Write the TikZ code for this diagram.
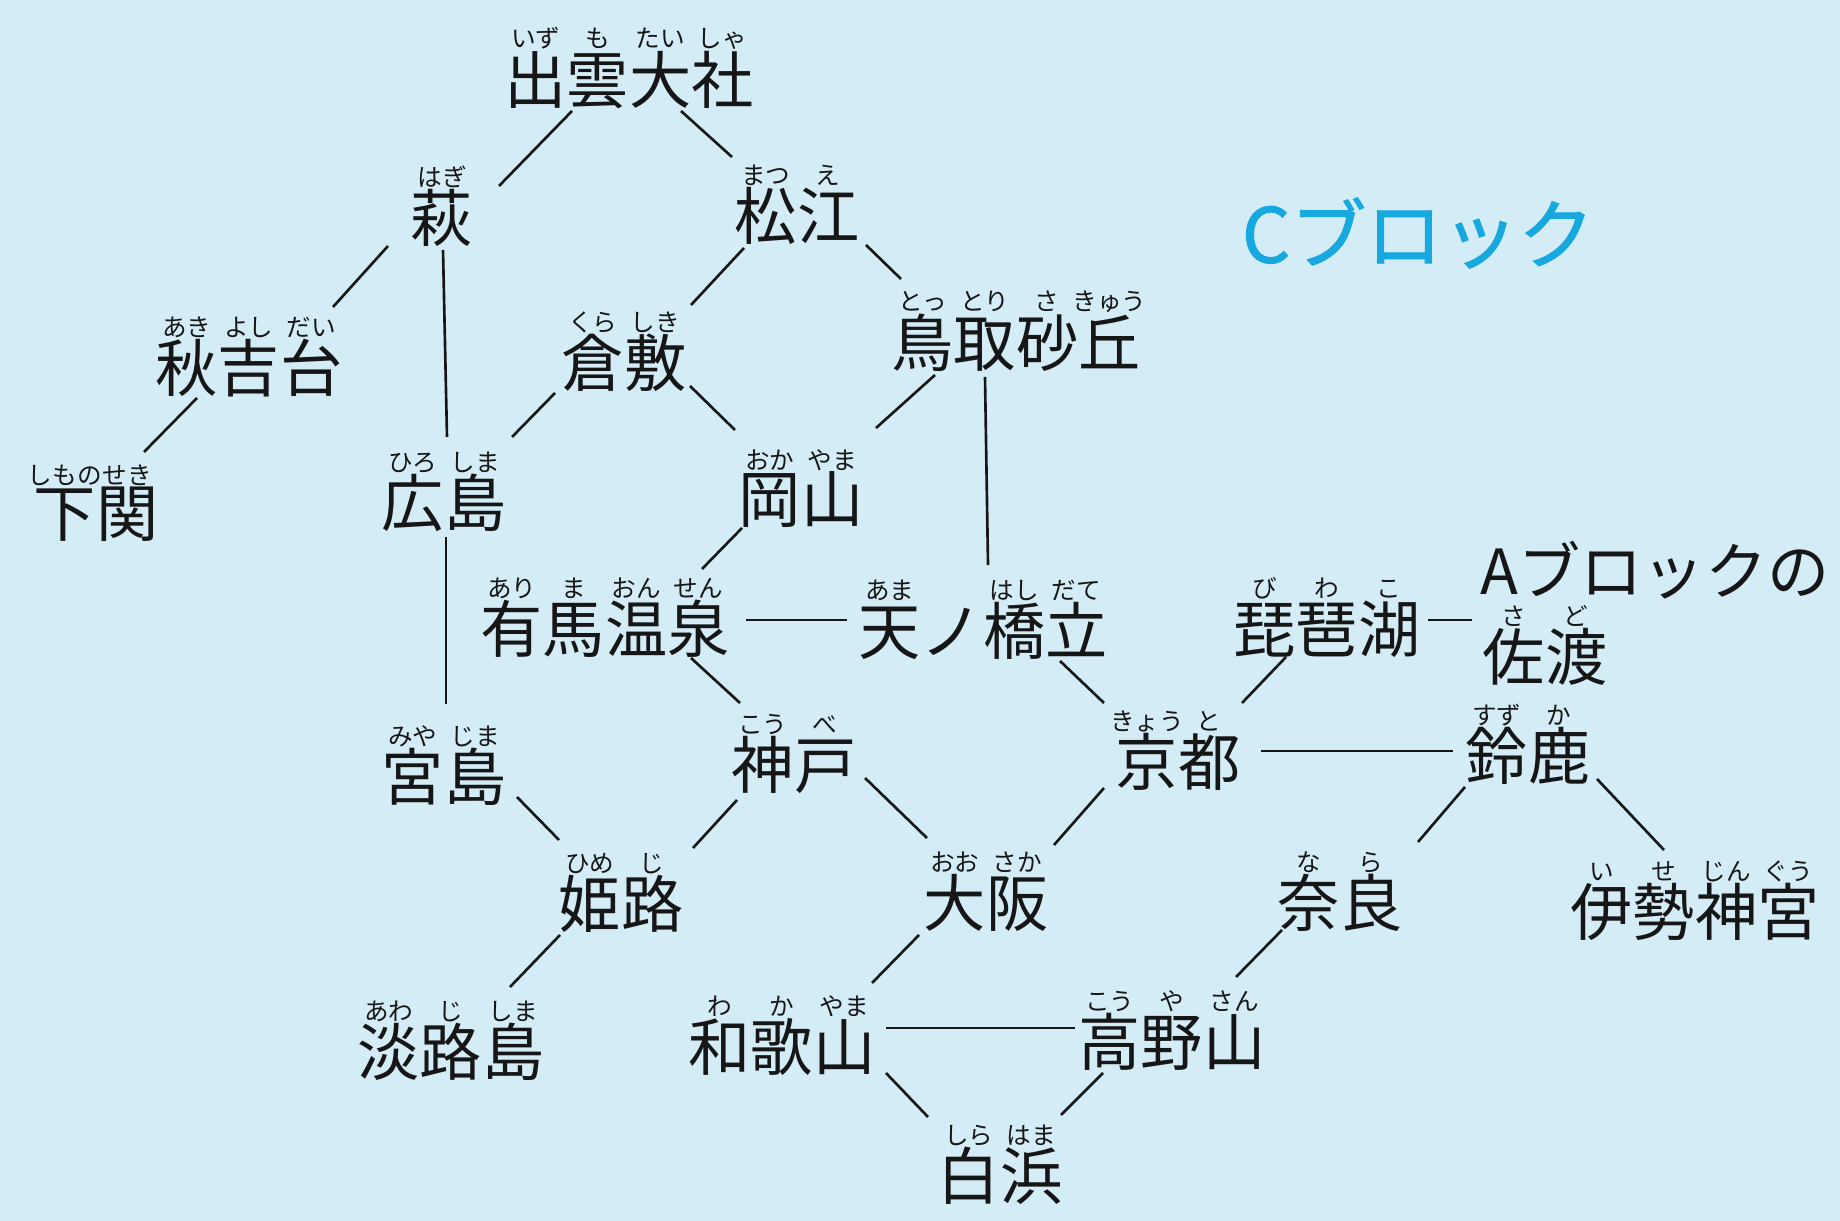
\documentclass[tikz,border=0pt]{standalone}
\usepackage{fontspec}
\setmainfont{Noto Sans CJK JP}
\newfontfamily\blockfont[FakeBold=1.2]{Noto Sans CJK JP}
\definecolor{sky}{RGB}{212,236,246}
\definecolor{ink}{RGB}{22,22,22}
\definecolor{blockcyan}{RGB}{22,168,222}
\newlength{\kw}
\setlength{\kw}{17.7pt}
\newcommand{\fu}[1]{\makebox[\kw]{#1}}
\newcommand{\placefont}{\fontsize{17.7pt}{20pt}\selectfont}
\newcommand{\rubyfont}{\fontsize{7pt}{8pt}\selectfont}

\begin{document}
\begin{tikzpicture}[x=0.1mm, y=-0.1mm]
\tikzstyle{p} = [font=\placefont, text=ink, inner sep=0pt, label distance=1.1mm]
\tikzstyle{r} = [font=\rubyfont, text=ink, inner sep=0pt]
\tikzstyle{e} = [draw=ink, line width=0.75pt]

\fill[sky] (0,0) rectangle (1840,1221);

\node[font=\blockfont\fontsize{21.6pt}{24pt}\selectfont, text=blockcyan, inner sep=0pt] (CBlock) at (1418,233) {Cブロック};

\node[p, label={[r]above:{\fu{いず}\fu{も}\fu{たい}\fu{しゃ}}}] (Izumo) at (629,80) {出雲大社};
\node[p, label={[r]above:{\fu{はぎ}}}] (Hagi) at (442,218) {萩};
\node[p, label={[r]above:{\fu{まつ}\fu{え}}}] (Matsue) at (797,216) {松江};
\node[p, label={[r]above:{\fu{あき}\fu{よし}\fu{だい}}}] (Akiyoshi) at (249,368) {秋吉台};
\node[p, label={[r]above:{\fu{くら}\fu{しき}}}] (Kurashiki) at (624,363) {倉敷};
\node[p, label={[r]above:{\fu{とっ}\fu{とり}\fu{さ}\fu{きゅう}}}] (Tottori) at (1016,343) {鳥取砂丘};
\node[p, label={[r]above:{\fu{しもの}\fu{せき}}}] (Shimo) at (96,514) {下関};
\node[p, label={[r]above:{\fu{ひろ}\fu{しま}}}] (Hiroshima) at (444,503) {広島};
\node[p, label={[r]above:{\fu{おか}\fu{やま}}}] (Okayama) at (801,500) {岡山};
\node[p, label={[r]above:{\fu{あり}\fu{ま}\fu{おん}\fu{せん}}}] (Arima) at (605,629) {有馬温泉};
\node[p, label={[r]above:{\fu{あま}\fu{}\fu{はし}\fu{だて}}}] (Amano) at (983,631) {天ノ橋立};
\node[p, label={[r]above:{\fu{び}\fu{わ}\fu{こ}}}] (Biwako) at (1327,629) {琵琶湖};
\node[p] (ABlock) at (1655,570) {Aブロックの};
\node[p, label={[r]above:{\fu{さ}\fu{ど}}}] (Sado) at (1545,657) {佐渡};
\node[p, label={[r]above:{\fu{みや}\fu{じま}}}] (Miyajima) at (444,777) {宮島};
\node[p, label={[r]above:{\fu{こう}\fu{べ}}}] (Kobe) at (794,765) {神戸};
\node[p, label={[r]above:{\fu{きょう}\fu{と}}}] (Kyoto) at (1178,762) {京都};
\node[p, label={[r]above:{\fu{すず}\fu{か}}}] (Suzuka) at (1528,756) {鈴鹿};
\node[p, label={[r]above:{\fu{ひめ}\fu{じ}}}] (Himeji) at (621,904) {姫路};
\node[p, label={[r]above:{\fu{おお}\fu{さか}}}] (Osaka) at (986,903) {大阪};
\node[p, label={[r]above:{\fu{な}\fu{ら}}}] (Nara) at (1340,903) {奈良};
\node[p, label={[r]above:{\fu{い}\fu{せ}\fu{じん}\fu{ぐう}}}] (Ise) at (1695,912) {伊勢神宮};
\node[p, label={[r]above:{\fu{あわ}\fu{じ}\fu{しま}}}] (Awaji) at (451,1052) {淡路島};
\node[p, label={[r]above:{\fu{わ}\fu{か}\fu{やま}}}] (Wakayama) at (782,1047) {和歌山};
\node[p, label={[r]above:{\fu{こう}\fu{や}\fu{さん}}}] (Koya) at (1172,1042) {高野山};
\node[p, label={[r]above:{\fu{しら}\fu{はま}}}] (Shirahama) at (1000,1176) {白浜};

\draw[e] ([shift={(-57,31)}]Izumo.center) to ([shift={(57,-32)}]Hagi.center);
\draw[e] ([shift={(52,31)}]Izumo.center) to ([shift={(-65,-59)}]Matsue.center);
\draw[e] ([shift={(-54,28)}]Hagi.center) to ([shift={(84,-61)}]Akiyoshi.center);
\draw[e] ([shift={(1,32)}]Hagi.center) to ([shift={(3,-66)}]Hiroshima.center);
\draw[e] ([shift={(-53,32)}]Matsue.center) to ([shift={(67,-58)}]Kurashiki.center);
\draw[e] ([shift={(69,29)}]Matsue.center) to ([shift={(-115,-64)}]Tottori.center);
\draw[e] ([shift={(-52,30)}]Akiyoshi.center) to ([shift={(48,-62)}]Shimo.center);
\draw[e] ([shift={(-69,30)}]Kurashiki.center) to ([shift={(68,-66)}]Hiroshima.center);
\draw[e] ([shift={(66,23)}]Kurashiki.center) to ([shift={(-66,-70)}]Okayama.center);
\draw[e] ([shift={(-81,32)}]Tottori.center) to ([shift={(75,-72)}]Okayama.center);
\draw[e] ([shift={(-31,34)}]Tottori.center) to ([shift={(5,-66)}]Amano.center);
\draw[e] ([shift={(-59,28)}]Okayama.center) to ([shift={(97,-60)}]Arima.center);
\draw[e] ([shift={(2,34)}]Hiroshima.center) to ([shift={(2,-73)}]Miyajima.center);
\draw[e] ([shift={(141,-9)}]Arima.center) to ([shift={(-136,-11)}]Amano.center);
\draw[e] ([shift={(86,29)}]Arima.center) to ([shift={(-54,-62)}]Kobe.center);
\draw[e] ([shift={(77,30)}]Amano.center) to ([shift={(-74,-59)}]Kyoto.center);
\draw[e] ([shift={(-41,28)}]Biwako.center) to ([shift={(64,-59)}]Kyoto.center);
\draw[e] ([shift={(101,-9)}]Biwako.center) to ([shift={(-73,-37)}]Sado.center);
\draw[e] ([shift={(83,-11)}]Kyoto.center) to ([shift={(-75,-5)}]Suzuka.center);
\draw[e] ([shift={(73,20)}]Miyajima.center) to ([shift={(-62,-64)}]Himeji.center);
\draw[e] ([shift={(-57,35)}]Kobe.center) to ([shift={(72,-56)}]Himeji.center);
\draw[e] ([shift={(71,13)}]Kobe.center) to ([shift={(-59,-65)}]Osaka.center);
\draw[e] ([shift={(-74,26)}]Kyoto.center) to ([shift={(68,-58)}]Osaka.center);
\draw[e] ([shift={(-63,31)}]Suzuka.center) to ([shift={(78,-61)}]Nara.center);
\draw[e] ([shift={(69,23)}]Suzuka.center) to ([shift={(-31,-62)}]Ise.center);
\draw[e] ([shift={(-61,31)}]Himeji.center) to ([shift={(59,-65)}]Awaji.center);
\draw[e] ([shift={(-67,32)}]Osaka.center) to ([shift={(90,-64)}]Wakayama.center);
\draw[e] ([shift={(-58,27)}]Nara.center) to ([shift={(64,-65)}]Koya.center);
\draw[e] ([shift={(104,-19)}]Wakayama.center) to ([shift={(-97,-14)}]Koya.center);
\draw[e] ([shift={(104,26)}]Wakayama.center) to ([shift={(-72,-59)}]Shirahama.center);
\draw[e] ([shift={(-69,31)}]Koya.center) to ([shift={(61,-61)}]Shirahama.center);
\end{tikzpicture}
\end{document}
